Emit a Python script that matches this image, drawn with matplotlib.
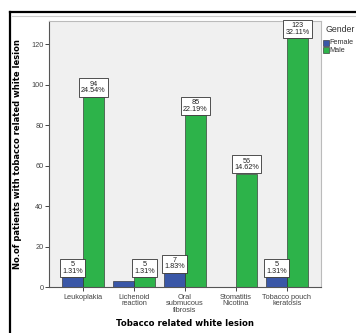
import numpy as np
import matplotlib.pyplot as plt
from matplotlib.patches import Rectangle
from matplotlib.lines import Line2D

plt.rcParams['font.family'] = ['Liberation Sans', 'DejaVu Sans']

# data
lesions = ['Leukoplakia', 'Lichenoid\nreaction', 'Oral\nsubmucous\nfibrosis',
           'Stomatitis\nNicotina', 'Tobacco pouch\nkeratosis']
female = [5, 3, 7, 0, 5]
male = [94, 5, 85, 56, 123]
female_pct = ['1.31%', '', '1.83%', '', '1.31%']
male_pct = ['24.54%', '1.31%', '22.19%', '14.62%', '32.11%']

blue = '#3a57a7'
green = '#2db34a'

fig = plt.figure(figsize=(3.56, 3.33), dpi=100)
fig.patch.set_facecolor('white')
ax = fig.add_axes([49/356, 1-287/333, 272/356, 266/333])
ax.set_facecolor('#f0f0f0')

x = np.arange(len(lesions))
w = 0.41
ax.bar(x - w/2, female, w, color=blue, edgecolor='#222222', linewidth=0.4, label='Female')
ax.bar(x + w/2, male, w, color=green, edgecolor='#222222', linewidth=0.4, label='Male')

# value boxes on top of bars
box = dict(boxstyle='square,pad=0.3', fc='white', ec='#333333', lw=0.6)
for i in range(len(lesions)):
    if female_pct[i]:
        ax.annotate('%d\n%s' % (female[i], female_pct[i]), (x[i] - w/2, female[i]),
                    xytext=(0, 1.7), textcoords='offset points', ha='center', va='bottom',
                    fontsize=5.2, linespacing=0.95, bbox=box, color='#222222')
    ax.annotate('%d\n%s' % (male[i], male_pct[i]), (x[i] + w/2, male[i]),
                xytext=(0, 1.7), textcoords='offset points', ha='center', va='bottom',
                fontsize=5.2, linespacing=0.95, bbox=box, color='#222222')

ax.set_xlim(-0.667, len(lesions) - 1 + 0.667)
ax.set_ylim(0, 131.4)
ax.set_yticks(range(0, 121, 20))
ax.set_xticks(x)
ax.set_xticklabels(lesions, fontsize=5.3, linespacing=0.9, color='#222222')
ax.tick_params(axis='y', labelsize=5.3, length=3, width=0.7, colors='#444444', pad=1)
ax.tick_params(axis='x', length=3, width=0.7, colors='#444444', pad=2)
for s in ['top', 'right']:
    ax.spines[s].set_color('#bbbbbb')
for s in ['left', 'bottom']:
    ax.spines[s].set_color('#555555')
for s in ax.spines.values():
    s.set_linewidth(0.8)

fig.text(18/356, 1-154/333, 'No.of patients with tobacco related white lesion', rotation=90,
         ha='center', va='center', fontsize=6, fontweight='bold', family='DejaVu Sans')
fig.text(185/356, 1-324/333, 'Tobacco related white lesion', ha='center', va='center',
         fontsize=6.1, fontweight='bold', family='DejaVu Sans')

# legend drawn by hand to match the small SPSS style
fig.text(325/356, 1-30/333, 'Gender', ha='left', va='center', fontsize=6.3, color='#333333')
for j, (lab, c) in enumerate([('Female', blue), ('Male', green)]):
    yy = 1 - (43 + j*7)/333
    fig.patches.append(Rectangle((323/356, yy - 3/333), 6/356, 6/333, transform=fig.transFigure,
                                 fc=c, ec='#222222', lw=0.4))
    fig.text(329.5/356, yy, lab, ha='left', va='center', fontsize=5.2, color='#333333')

# outer frame lines
fig.add_artist(Line2D([10/356, 10/356], [0, 1-12/333], transform=fig.transFigure,
                      color='black', lw=1.6))
fig.add_artist(Line2D([10/356, 1], [1-12/333, 1-12/333], transform=fig.transFigure,
                      color='black', lw=1.6))
fig.add_artist(Line2D([12/356, 1], [1-16/333, 1-16/333], transform=fig.transFigure,
                      color='#cccccc', lw=0.8))

fig.savefig('out.png', dpi=100)
